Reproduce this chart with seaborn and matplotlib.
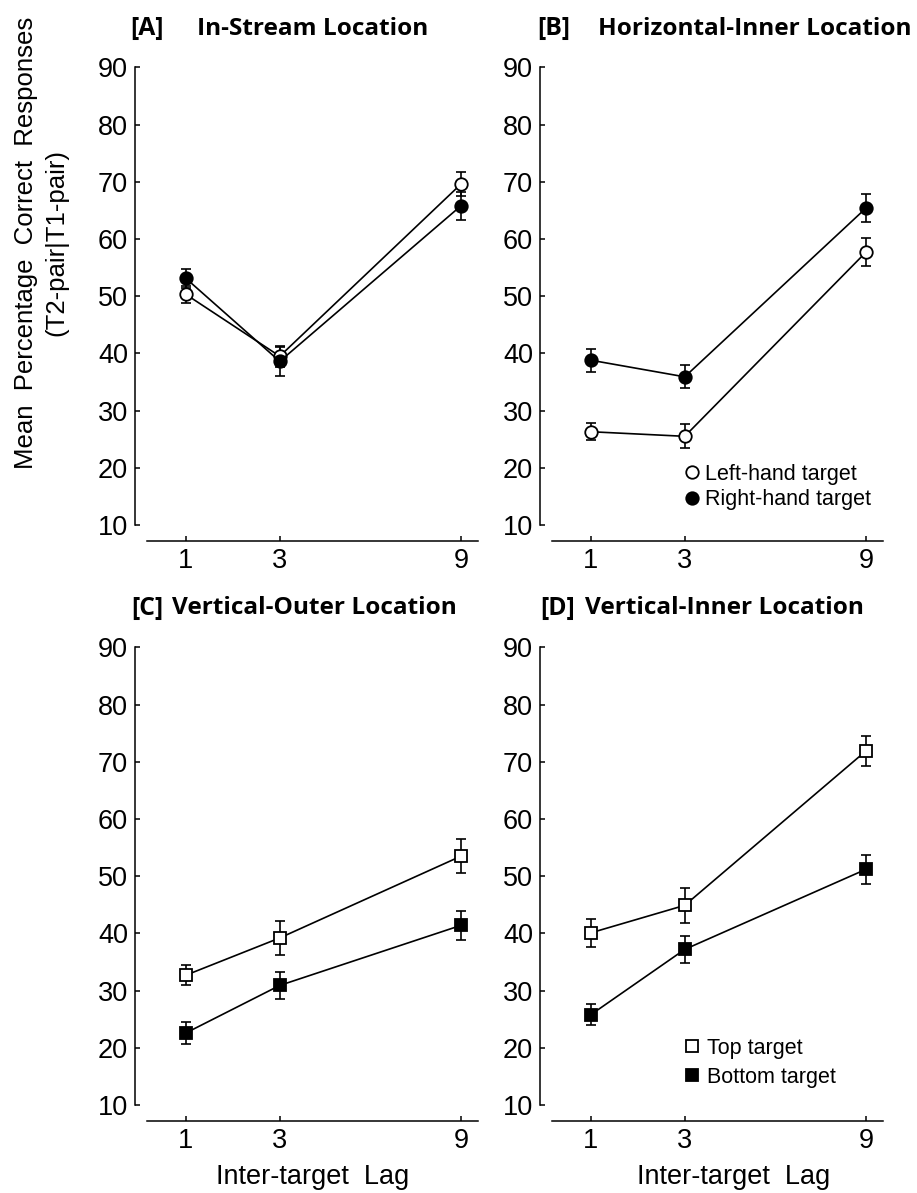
import numpy as np
import matplotlib
matplotlib.use('Agg')
import matplotlib.pyplot as plt
from matplotlib.lines import Line2D
import seaborn as sns

# data (means and error bar half-widths)
lags = [1, 3, 9]

instream_left = [50.3, 39.5, 69.6]
instream_left_err = [1.5, 1.8, 2.1]
instream_right = [53.1, 38.6, 65.8]
instream_right_err = [1.6, 2.5, 2.4]

horiz_left = [26.3, 25.5, 57.7]
horiz_left_err = [1.5, 2.1, 2.4]
horiz_right = [38.8, 35.9, 65.4]
horiz_right_err = [2.0, 2.0, 2.4]

vouter_top = [32.7, 39.2, 53.5]
vouter_top_err = [1.8, 2.9, 3.0]
vouter_bottom = [22.6, 30.9, 41.4]
vouter_bottom_err = [1.9, 2.4, 2.5]

vinner_top = [40.1, 44.9, 71.9]
vinner_top_err = [2.4, 3.0, 2.6]
vinner_bottom = [25.8, 37.2, 51.2]
vinner_bottom_err = [1.9, 2.4, 2.5]

panel_letters = ['[A]', '[B]', '[C]', '[D]']
panel_names = ['In-Stream Location', 'Horizontal-Inner Location',
               'Vertical-Outer Location', 'Vertical-Inner Location']
yticks = [10, 20, 30, 40, 50, 60, 70, 80, 90]

sns.set_style('ticks')
plt.rcParams['font.family'] = ['Liberation Sans', 'DejaVu Sans']
plt.rcParams['text.color'] = 'black'

W, H = 917, 1193
fig = plt.figure(figsize=(W / 100, H / 100), dpi=100)

def rect(left, right, top, bottom):
    return [left / W, 1 - bottom / H, (right - left) / W, (bottom - top) / H]

ax_rects = [rect(147, 478, 64.5, 541), rect(552, 883, 64.5, 541),
            rect(147, 478, 644.5, 1121), rect(552, 883, 644.5, 1121)]

panels = [
    (instream_left, instream_left_err, instream_right, instream_right_err, 'o'),
    (horiz_left, horiz_left_err, horiz_right, horiz_right_err, 'o'),
    (vouter_top, vouter_top_err, vouter_bottom, vouter_bottom_err, 's'),
    (vinner_top, vinner_top_err, vinner_bottom, vinner_bottom_err, 's'),
]

# lag axis is stretched like x**0.6 in the original
fwd = lambda x: np.sign(x) * np.abs(x) ** 0.6
inv = lambda x: np.sign(x) * np.abs(x) ** (1 / 0.6)

name_x = [197, 598, 172, 585]
letter_x = [130, 537, 131, 540]

for i, (r, (open_v, open_e, fill_v, fill_e, mk)) in enumerate(zip(ax_rects, panels)):
    ax = fig.add_axes(r)
    ax.set_xscale('function', functions=(fwd, inv))
    ms = 9 if mk == 'o' else 8.5
    for vals, errs, face in [(open_v, open_e, 'white'), (fill_v, fill_e, 'black')]:
        ax.errorbar(lags, vals, yerr=errs, fmt='none', ecolor='black',
                    elinewidth=1.2, capsize=3.8, capthick=1.2, zorder=2)
        sns.lineplot(x=lags, y=vals, ax=ax, color='black', linewidth=1.2,
                     marker=mk, markersize=ms, markerfacecolor=face,
                     markeredgecolor='black', markeredgewidth=1.3, zorder=3)
    ax.set_xlim(0.441, 9.69)
    ax.set_ylim(7.2, 90.5)
    ax.set_xticks(lags)
    ax.set_xticklabels([str(l) for l in lags])
    ax.set_yticks(yticks)
    ax.minorticks_off()
    sns.despine(ax=ax)
    ax.spines['left'].set_position(('outward', 8.6))
    ax.spines['left'].set_bounds(10, 90)
    for s in ['left', 'bottom']:
        ax.spines[s].set_linewidth(1.1)
        ax.spines[s].set_color('black')
    ax.tick_params(axis='both', direction='in', length=3.5, width=1.1,
                   labelsize=19.5, colors='black', pad=5)
    ax.set_xlabel('')
    ax.set_ylabel('')
    # panel title
    ty = r[1] + r[3] + 36 / H
    fig.text(letter_x[i] / W, ty, panel_letters[i], family='Open Sans',
             fontweight='bold', fontsize=17.8, ha='left', va='center')
    fig.text(name_x[i] / W, ty, panel_names[i], family='Open Sans',
             fontweight='bold', fontsize=17.6, ha='left', va='center')

# legends
def make_handles(mk, ms):
    return [Line2D([], [], ls='none', marker=mk, markersize=ms, markerfacecolor='white',
                   markeredgecolor='black', markeredgewidth=1.3),
            Line2D([], [], ls='none', marker=mk, markersize=ms, markerfacecolor='black',
                   markeredgecolor='black', markeredgewidth=1.3)]

fig.legend(make_handles('o', 9), ['Left-hand target', 'Right-hand target'],
           loc='upper left', bbox_to_anchor=(683 / W, 1 - 464 / H), frameon=False,
           fontsize=15.5, handlelength=0.8, handletextpad=0.2, borderpad=0,
           borderaxespad=0, labelspacing=0.2)
fig.legend(make_handles('s', 8.5), ['Top target', 'Bottom target'],
           loc='upper left', bbox_to_anchor=(683 / W, 1 - 1038 / H), frameon=False,
           fontsize=15.5, handlelength=0.8, handletextpad=0.3, borderpad=0,
           borderaxespad=0, labelspacing=0.35)

# axis labels
fig.text(41 / W, 1 - 243 / H, 'Mean  Percentage  Correct  Responses\n(T2-pair|T1-pair)',
         rotation=90, ha='center', va='center', multialignment='center',
         fontsize=18.5, linespacing=1.35)
for cx in [313, 734]:
    fig.text(cx / W, 1 - 1177 / H, 'Inter-target  Lag', ha='center', va='center',
             fontsize=19.5)

fig.savefig('out.png', dpi=100)
